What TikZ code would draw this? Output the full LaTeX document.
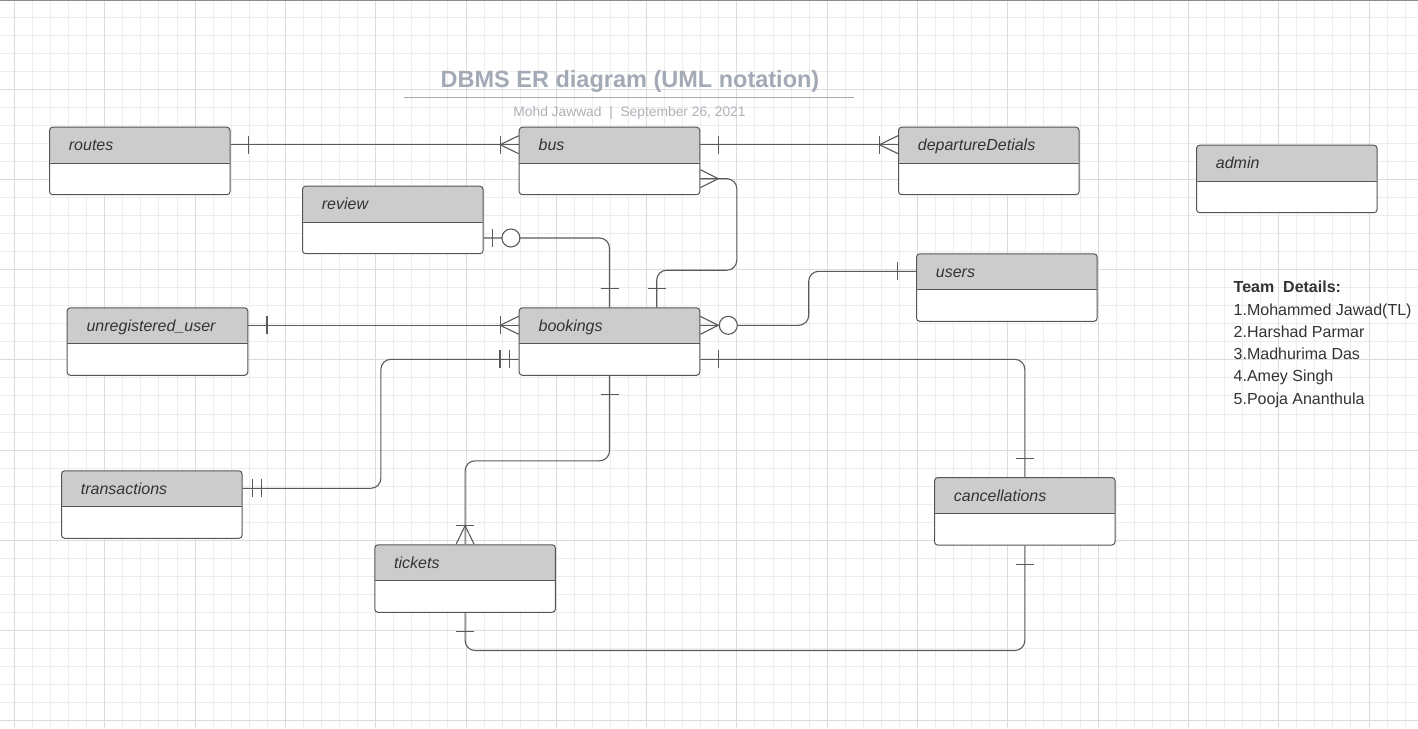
\documentclass[tikz,border=0pt]{standalone}
\usepackage{fontspec}
\setmainfont{Liberation Sans}
\usetikzlibrary{calc}
\definecolor{gridmin}{HTML}{EDEDED}
\definecolor{gridmaj}{HTML}{DCDCDC}
\definecolor{hdr}{HTML}{CCCCCC}
\definecolor{edge}{HTML}{555555}
\definecolor{wire}{HTML}{5A5A5A}
\definecolor{txt}{HTML}{333333}
\definecolor{ttl}{HTML}{A3AAB5}
\definecolor{subt}{HTML}{ADB1B8}
\tikzset{
 entbox/.style={draw=edge, line width=0.5pt, fill=white, rounded corners=1.6pt,
   minimum width=90.3pt, minimum height=33.75pt, inner sep=0pt, anchor=north west,
   path picture={\fill[hdr] (path picture bounding box.north west) rectangle ([yshift=-18pt]path picture bounding box.north east);
     \draw[edge, line width=0.5pt] ([yshift=-18pt]path picture bounding box.north west) -- ([yshift=-18pt]path picture bounding box.north east);}},
 entlbl/.style={anchor=base west, inner sep=0pt, text=txt, font=\fontsize{8pt}{9.6pt}\selectfont\itshape},
 conn/.style={draw=wire, line width=0.55pt, rounded corners=5pt},
 tick/.style={draw=wire, line width=0.55pt},
 circ/.style={circle, draw=wire, line width=0.55pt, fill=white, minimum size=9pt, inner sep=0pt},
 teamtxt/.style={anchor=base west, inner sep=0pt, text=txt, font=\fontsize{8pt}{9.6pt}\selectfont},
}
\newcommand\Ent[4]{\node[entbox] (#1) at (#2,#3) {};
  \node[entlbl] (#1-lbl) at ($(#1.north west)+(19.5,24)$) {#4};}
\begin{document}
\begin{tikzpicture}[x=0.5pt,y=-0.5pt]
\useasboundingbox (0,0) rectangle (1418,728);
\fill[white] (0,0) rectangle (1418,728);
% grid
\foreach \i in {0,...,78} {\draw[gridmin, line width=0.5pt] ({14.5+18.06*\i},0) -- ({14.5+18.06*\i},728);}
\foreach \j in {1,...,40} {\draw[gridmin, line width=0.5pt] (0,{-0.9+18.04*\j}) -- (1418,{-0.9+18.04*\j});}
\foreach \i in {0,5,...,75} {\draw[gridmaj, line width=0.5pt] ({14.5+18.06*\i},0) -- ({14.5+18.06*\i},728);}
\foreach \j in {5,10,...,40} {\draw[gridmaj, line width=0.5pt] (0,{-0.9+18.04*\j}) -- (1418,{-0.9+18.04*\j});}
\draw[black!45, line width=0.6pt] (0,0.6) -- (1418,0.6);
% title
\node[anchor=base, inner sep=0pt, text=ttl, font=\fontsize{11.75pt}{14pt}\selectfont\bfseries] (title) at (630,87.3) {DBMS ER diagram (UML notation)};
\coordinate (ulA) at (404,97.3);
\coordinate (ulB) at (854,97.3);
\draw[ttl, line width=0.8pt] (ulA) -- (ulB);
\node[anchor=base, inner sep=0pt, text=subt, font=\fontsize{6.9pt}{8pt}\selectfont] (subtitle) at (629.5,116.7) {Mohd Jawwad~~|~~September 26, 2021};
% team details
\node[teamtxt] (team0) at (1233.3,292.7) {\textbf{Team~~Details:}};
\node[teamtxt] (team1) at (1233.3,315.0) {1.Mohammed Jawad(TL)};
\node[teamtxt] (team2) at (1233.3,337.3) {2.Harshad Parmar};
\node[teamtxt] (team3) at (1233.3,359.5) {3.Madhurima Das};
\node[teamtxt] (team4) at (1233.3,381.7) {4.Amey Singh};
\node[teamtxt] (team5) at (1233.3,404.0) {5.Pooja Ananthula};
% entities
\Ent{routes}{49}{126.7}{routes}
\Ent{bus}{518.7}{126.7}{bus}
\Ent{departure}{898}{126.7}{departureDetials}
\Ent{admin}{1196}{144.7}{admin}
\Ent{review}{302}{185.7}{review}
\Ent{users}{916}{253.3}{users}
\Ent{unregistered}{66.7}{307.3}{unregistered\_user}
\Ent{bookings}{518.7}{307.3}{bookings}
\Ent{transactions}{61}{470.3}{transactions}
\Ent{tickets}{374.3}{544.3}{tickets}
\Ent{cancellations}{934}{477}{cancellations}
% routes - bus
\coordinate (rb1) at ($(routes.north east)+(0,18)$);
\coordinate (rb2) at ($(bus.north west)+(0,18)$);
\draw[conn] (rb1) -- (rb2);
\draw[tick] ($(rb1)+(17.5,-9)$) -- ++(0,18);
\draw[tick] ($(rb2)+(-18.5,-9)$) -- ++(0,18);
\draw[tick] ($(rb2)+(0,-9)$) -- ($(rb2)+(-18.5,0)$) -- ($(rb2)+(0,9)$);
% bus - departureDetials
\coordinate (bd1) at ($(bus.north east)+(0,18)$);
\coordinate (bd2) at ($(departure.north west)+(0,18)$);
\draw[conn] (bd1) -- (bd2);
\draw[tick] ($(bd1)+(18.4,-9)$) -- ++(0,18);
\draw[tick] ($(bd2)+(-18.5,-9)$) -- ++(0,18);
\draw[tick] ($(bd2)+(0,-9)$) -- ($(bd2)+(-18.5,0)$) -- ($(bd2)+(0,9)$);
% bus - bookings
\coordinate (bb1) at ($(bus.north east)+(0,52)$);
\coordinate (bb2) at ($(bookings.north west)+(138,0)$);
\draw[conn] (bb1) -- ++(36.5,0) -- ++(0,91.5) -| (bb2);
\draw[tick] ($(bb1)+(0,-9)$) -- ($(bb1)+(18,0)$) -- ($(bb1)+(0,9)$);
\draw[tick] ($(bb2)+(-9,-18.5)$) -- ++(18,0);
% review - bookings
\coordinate (rv1) at ($(review.north east)+(0,52.3)$);
\draw[conn] (rv1) -| (bookings.north);
\draw[tick] ($(rv1)+(9.3,-9)$) -- ++(0,18);
\node[circ] (rvc) at ($(rv1)+(27.3,0)$) {};
\draw[tick] ($(bookings.north)+(-9,-18.5)$) -- ++(18,0);
% unregistered_user - bookings
\coordinate (ub1) at ($(unregistered.north east)+(0,18)$);
\coordinate (ub2) at ($(bookings.north west)+(0,18)$);
\draw[conn] (ub1) -- (ub2);
\draw[tick] ($(ub1)+(18.7,-9)$) -- ++(0,18);
\draw[tick] ($(ub2)+(-18.5,-9)$) -- ++(0,18);
\draw[tick] ($(ub2)+(0,-9)$) -- ($(ub2)+(-18.5,0)$) -- ($(ub2)+(0,9)$);
% bookings - users
\coordinate (bu1) at ($(bookings.north east)+(0,18)$);
\coordinate (bu2) at ($(users.north west)+(0,18)$);
\draw[conn] (bu1) -- ++(108.4,0) |- (bu2);
\draw[tick] ($(bu1)+(0,-9)$) -- ($(bu1)+(18,0)$) -- ($(bu1)+(0,9)$);
\node[circ] (buc) at ($(bu1)+(28,0)$) {};
\draw[tick] ($(bu2)+(-18.7,-9)$) -- ++(0,18);
% transactions - bookings
\coordinate (tb1) at ($(transactions.north east)+(0,18)$);
\coordinate (tb2) at ($(bookings.north west)+(0,52)$);
\draw[conn] (tb1) -- ++(138.3,0) |- (tb2);
\draw[tick] ($(tb1)+(9.5,-9)$) -- ++(0,18);
\draw[tick] ($(tb1)+(18.5,-9)$) -- ++(0,18);
\draw[tick] ($(tb2)+(-18.7,-9)$) -- ++(0,18);
\draw[tick] ($(tb2)+(-9.5,-9)$) -- ++(0,18);
% bookings - tickets
\draw[conn] (bookings.south) -- ++(0,85) -| (tickets.north);
\draw[tick] ($(bookings.south)+(-9,18.6)$) -- ++(18,0);
\draw[tick] ($(tickets.north)+(-9,-18.6)$) -- ++(18,0);
\draw[tick] ($(tickets.north)+(-9,0)$) -- ($(tickets.north)+(0,-18.6)$) -- ($(tickets.north)+(9,0)$);
% bookings - cancellations
\coordinate (bc1) at ($(bookings.north east)+(0,52)$);
\draw[conn] (bc1) -| (cancellations.north);
\draw[tick] ($(bc1)+(18.4,-9)$) -- ++(0,18);
\draw[tick] ($(cancellations.north)+(-9,-18.7)$) -- ++(18,0);
% cancellations - tickets
\draw[conn] (cancellations.south) -- ++(0,105) -| (tickets.south);
\draw[tick] ($(cancellations.south)+(-9,19)$) -- ++(18,0);
\draw[tick] ($(tickets.south)+(-9,18.7)$) -- ++(18,0);
\end{tikzpicture}
\end{document}
